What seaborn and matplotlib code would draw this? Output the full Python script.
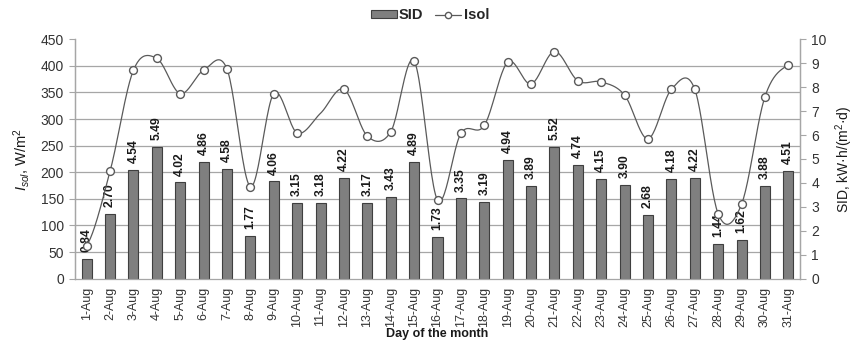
import numpy as np
import pandas as pd
import matplotlib
matplotlib.use("Agg")
import matplotlib.pyplot as plt
import seaborn as sns
from matplotlib.lines import Line2D
from matplotlib.patches import Patch

# ---- data -------------------------------------------------------------
days = [f"{d}-Aug" for d in range(1, 32)]
sid = [0.84, 2.70, 4.54, 5.49, 4.02, 4.86, 4.58, 1.77, 4.06, 3.15, 3.18,
       4.22, 3.17, 3.43, 4.89, 1.73, 3.35, 3.19, 4.94, 3.89, 5.52, 4.74,
       4.15, 3.90, 2.68, 4.18, 4.22, 1.44, 1.62, 3.88, 4.51]
isol = [62, 202, 392, 414, 348, 392, 394, 173, 348, 274, 311, 356, 268,
        276, 409, 148, 273, 288, 407, 366, 427, 372, 370, 345, 263, 356,
        356, 122, 140, 342, 402]
hidden_marker = [10]          # day without a visible marker on the curve
left_ticks = list(range(0, 451, 50))
right_ticks = list(range(0, 11))

df = pd.DataFrame({"day": days, "SID": sid, "Isol": isol})

# ---- style ------------------------------------------------------------
sns.set_theme(style="white")
plt.rcParams["font.family"] = ["Liberation Sans", "DejaVu Sans"]
plt.rcParams["mathtext.fontset"] = "custom"
plt.rcParams["mathtext.rm"] = "Liberation Sans"
plt.rcParams["mathtext.it"] = "Liberation Sans:italic"

BAR = "#7f7f7f"
BAR_EDGE = "#3f3f3f"
LINE = "#5a5a5a"
GRID = "#a6a6a6"
TXT = "#1a1a1a"

fig = plt.figure(figsize=(8.56, 3.41), dpi=100)
ax_bar = fig.add_axes([0.0876, 0.1827, 0.8470, 0.7021])
ax_line = ax_bar.twinx()

# ---- bars (right axis, SID) ------------------------------------------
sns.barplot(data=df, x="day", y="SID", ax=ax_bar, color=BAR,
            edgecolor=BAR_EDGE, linewidth=0.8, width=0.43, saturation=1)
ax_bar.set_ylim(0, 10)
ax_bar.set_xlim(-0.5, len(days) - 0.5)
for cont in ax_bar.containers:
    ax_bar.bar_label(cont, fmt="%.2f", rotation=90, padding=5,
                     fontsize=8.7, fontweight="bold", color=TXT)

# horizontal grid follows the left-axis ticks
grid_pos = [t * 10 / 450 for t in left_ticks]
ax_bar.set_yticks(grid_pos, minor=True)
ax_bar.yaxis.grid(True, which="minor", color=GRID, linewidth=0.9)
ax_bar.yaxis.grid(False, which="major")
ax_bar.set_axisbelow(True)
ax_bar.set_yticks(right_ticks)
ax_bar.yaxis.tick_right()
ax_bar.yaxis.set_label_position("right")
ax_bar.tick_params(axis="y", which="minor", length=0)
ax_bar.tick_params(axis="y", which="major", length=4, width=0.8,
                   color=GRID, labelsize=10, labelcolor="#333333", pad=4)
ax_bar.set_ylabel("SID, kW·h/(m$^{2}$·d)", fontsize=10, color=TXT,
                  labelpad=5)

# x axis: labels at centers, ticks at category boundaries
ax_bar.set_xticks(range(len(days)))
ax_bar.set_xticklabels(days, rotation=90, fontsize=9, color="#333333")
ax_bar.set_xticks(np.arange(-0.5, len(days), 1), minor=True)
ax_bar.tick_params(axis="x", which="major", length=0, pad=6)
ax_bar.tick_params(axis="x", which="minor", length=5, width=0.8,
                   color=GRID, direction="out")
ax_bar.set_xlabel("Day of the month", fontsize=9, fontweight="bold",
                  color=TXT)
ax_bar.xaxis.set_label_coords(0.5, -0.232)
ax_bar.xaxis.label.set_va("center")

# ---- smoothed line (left axis, Isol) ---------------------------------
x = np.arange(len(isol), dtype=float)
y = np.asarray(isol, dtype=float)
xs, ys = [], []
for i in range(len(x) - 1):
    p0 = y[i - 1] if i > 0 else y[i]
    p1, p2 = y[i], y[i + 1]
    p3 = y[i + 2] if i + 2 < len(y) else y[i + 1]
    t = np.linspace(0, 1, 25)
    seg = 0.5 * ((2 * p1) + (-p0 + p2) * t
                 + (2 * p0 - 5 * p1 + 4 * p2 - p3) * t ** 2
                 + (-p0 + 3 * p1 - 3 * p2 + p3) * t ** 3)
    xs.append(x[i] + t)
    ys.append(seg)
ax_line.plot(np.concatenate(xs), np.concatenate(ys), color=LINE,
             linewidth=0.9, zorder=2)

mk = df.drop(index=hidden_marker)
sns.scatterplot(x=mk.index.to_numpy(), y=mk["Isol"].to_numpy(), ax=ax_line,
                marker="o", s=32, facecolor="white", edgecolor=LINE,
                linewidth=1.0, zorder=3, legend=False)

ax_line.set_ylim(0, 450)
ax_line.set_yticks(left_ticks)
ax_line.yaxis.tick_left()
ax_line.yaxis.set_label_position("left")
ax_line.tick_params(axis="y", length=4, width=0.8, color=GRID,
                    labelsize=10, labelcolor="#333333", pad=4)
ax_line.set_ylabel("$I_{sol}$, W/m$^{2}$", fontsize=10.5, color=TXT,
                   labelpad=6)

for a in (ax_bar, ax_line):
    a.spines["top"].set_visible(False)
    for s in ("left", "right", "bottom"):
        a.spines[s].set_color(GRID)
        a.spines[s].set_linewidth(0.9)
ax_line.spines["bottom"].set_visible(False)

# ---- legend -------------------------------------------------------------
handles = [
    Patch(facecolor=BAR, edgecolor=BAR_EDGE, linewidth=0.8, label="SID"),
    Line2D([0], [0], color=LINE, linewidth=0.9, marker="o", markersize=4.5,
           markerfacecolor="white", markeredgecolor=LINE, label="Isol"),
]
leg = fig.legend(handles=handles, loc="center", ncol=2,
                 bbox_to_anchor=(0.502, 0.955), frameon=False,
                 prop={"weight": "bold", "size": 10.5}, handlelength=1.8,
                 handleheight=0.5, handletextpad=0.15, columnspacing=0.8)

fig.savefig("out.png", dpi=100)
